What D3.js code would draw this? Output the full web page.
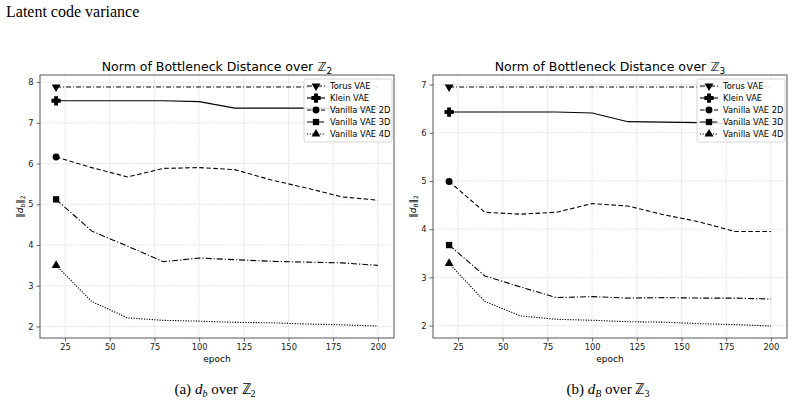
<!DOCTYPE html>
<html>
<head>
<meta charset="utf-8">
<script src="https://cdn.jsdelivr.net/npm/d3@7"></script>
<style>
  body { margin: 0; background: #fff; }
  svg { display: block; }
  .tick text { font-family: "DejaVu Sans", sans-serif; font-size: 8.3px; fill: #222; }
</style>
</head>
<body>
<div id="chart"></div>
<script>
// data
var epochs = [20, 40, 60, 80, 100, 120, 140, 160, 180, 200];
var xTicks = [25, 50, 75, 100, 125, 150, 175, 200];
var seriesNames = ["Torus VAE", "Klein VAE", "Vanilla VAE 2D", "Vanilla VAE 3D", "Vanilla VAE 4D"];

var torusZ2 = [7.88, 7.88, 7.88, 7.88, 7.88, 7.88, 7.88, 7.88, 7.88, 7.88];
var kleinZ2 = [7.54, 7.54, 7.54, 7.54, 7.52, 7.36, 7.36, 7.36, 7.36, 7.35];
var van2dZ2 = [6.16, 5.90, 5.67, 5.88, 5.90, 5.85, 5.60, 5.40, 5.18, 5.10];
var van3dZ2 = [5.12, 4.34, 3.97, 3.59, 3.68, 3.64, 3.60, 3.58, 3.56, 3.50];
var van4dZ2 = [3.50, 2.61, 2.21, 2.15, 2.13, 2.10, 2.09, 2.06, 2.04, 2.01];

var torusZ3 = [6.95, 6.95, 6.95, 6.95, 6.95, 6.95, 6.95, 6.95, 6.95, 6.95];
var kleinZ3 = [6.43, 6.43, 6.43, 6.43, 6.41, 6.23, 6.22, 6.21, 6.18, 6.15];
var van2dZ3 = [4.99, 4.35, 4.31, 4.35, 4.53, 4.48, 4.30, 4.15, 3.95, 3.95];
var van3dZ3 = [3.67, 3.03, 2.80, 2.58, 2.60, 2.57, 2.58, 2.57, 2.57, 2.55];
var van4dZ3 = [3.29, 2.50, 2.20, 2.13, 2.11, 2.08, 2.07, 2.04, 2.02, 1.99];

var svgWidth = 794, svgHeight = 405;
var svg = d3.select("#chart").append("svg")
  .attr("width", svgWidth)
  .attr("height", svgHeight);

svg.append("text")
  .attr("x", 6).attr("y", 17)
  .style("font-family", "Liberation Serif, serif")
  .style("font-size", "16px")
  .text("Latent code variance");

// line style + marker for each series
var styles = [
  { dash: "5,2,1,2", symbol: d3.symbolTriangle, rot: 180, size: 34, sw: 0 },
  { dash: null, symbol: d3.symbolCross, rot: 0, size: 36, sw: 1.2 },
  { dash: "4.5,2.5", symbol: d3.symbolCircle, rot: 0, size: 38, sw: 0 },
  { dash: "6,2,1.2,2", symbol: d3.symbolSquare, rot: 0, size: 40, sw: 0 },
  { dash: "1.2,1.4", symbol: d3.symbolTriangle, rot: 0, size: 34, sw: 0 }
];

function drawPanel(left, top, w, h, allSeries, sub, caption) {
  var g = svg.append("g").attr("transform", `translate(${left}, ${top})`);

  // matplotlib style 5% margins
  var xr = d3.extent(epochs);
  var xPad = (xr[1] - xr[0]) * 0.05;
  var all = [].concat.apply([], allSeries);
  var yr = d3.extent(all);
  var yPad = (yr[1] - yr[0]) * 0.05;

  var x = d3.scaleLinear().domain([xr[0] - xPad, xr[1] + xPad]).range([0, w]);
  var y = d3.scaleLinear().domain([yr[0] - yPad, yr[1] + yPad]).range([h, 0]);
  var yTicks = d3.range(Math.ceil(y.domain()[0]), Math.floor(y.domain()[1]) + 1);

  // grid
  g.append("g").selectAll("line").data(xTicks).enter().append("line")
    .attr("x1", d => x(d)).attr("x2", d => x(d)).attr("y1", 0).attr("y2", h)
    .attr("stroke", "#ccc").attr("stroke-width", 0.6).attr("stroke-dasharray", "1.5,1");
  g.append("g").selectAll("line").data(yTicks).enter().append("line")
    .attr("y1", d => y(d)).attr("y2", d => y(d)).attr("x1", 0).attr("x2", w)
    .attr("stroke", "#ccc").attr("stroke-width", 0.6).attr("stroke-dasharray", "1.5,1");

  // axes
  var bottomAxis = d3.axisBottom(x).tickValues(xTicks).tickSize(3.5).tickPadding(3);
  var leftAxis = d3.axisLeft(y).tickValues(yTicks).tickFormat(d3.format("d")).tickSize(3.5).tickPadding(3);
  var xa = g.append("g").attr("transform", `translate(0, ${h})`).call(bottomAxis);
  var ya = g.append("g").call(leftAxis);
  [xa, ya].forEach(function(a) {
    a.select(".domain").remove();
    a.selectAll(".tick line").attr("stroke", "#444").attr("stroke-width", 0.8);
  });

  // series
  var line = d3.line().x((d, i) => x(epochs[i])).y(d => y(d));
  allSeries.forEach(function(vals, k) {
    var st = styles[k];
    g.append("path")
      .datum(vals)
      .attr("d", line)
      .attr("fill", "none")
      .attr("stroke", "#000")
      .attr("stroke-width", 1.1)
      .attr("stroke-dasharray", st.dash);
    g.append("path")
      .attr("d", d3.symbol().type(st.symbol).size(st.size)())
      .attr("transform", `translate(${x(epochs[0])}, ${y(vals[0])}) rotate(${st.rot})`)
      .attr("fill", "#000")
      .attr("stroke", "#000").attr("stroke-width", st.sw);
  });

  // frame
  g.append("rect").attr("width", w).attr("height", h)
    .attr("fill", "none").attr("stroke", "#444").attr("stroke-width", 0.9);

  // title
  var t = g.append("text")
    .attr("x", w / 2).attr("y", -4)
    .attr("text-anchor", "middle")
    .style("font-family", "DejaVu Sans, sans-serif")
    .style("font-size", "12.5px");
  t.append("tspan").text("Norm of Bottleneck Distance over \u2124");
  t.append("tspan").attr("dy", 2.5).style("font-size", "9px").text(sub);

  // y label
  var yl = g.append("text")
    .attr("transform", `translate(-17, ${h / 2}) rotate(-90)`)
    .attr("text-anchor", "middle")
    .style("font-family", "DejaVu Sans, sans-serif")
    .style("font-size", "9px");
  yl.append("tspan").text("\u2016");
  yl.append("tspan").style("font-style", "italic").text("d");
  yl.append("tspan").attr("dy", 1.5).style("font-size", "6px").style("font-style", "italic").text(caption.sub);
  yl.append("tspan").attr("dy", -1.5).text("\u2016");
  yl.append("tspan").attr("dy", 1.5).style("font-size", "6px").text("2");

  // x label
  g.append("text")
    .attr("x", w / 2).attr("y", h + 24)
    .attr("text-anchor", "middle")
    .style("font-family", "DejaVu Sans, sans-serif")
    .style("font-size", "9px")
    .text("epoch");

  // legend
  var lg = g.append("g").attr("transform", `translate(${w - 90}, 4)`);
  lg.append("rect").attr("width", 88).attr("height", 63).attr("rx", 2)
    .attr("fill", "#fff").attr("fill-opacity", 0.85)
    .attr("stroke", "#ccc").attr("stroke-width", 0.8);
  seriesNames.forEach(function(name, k) {
    var st = styles[k];
    var ly = 7 + k * 12;
    lg.append("line").attr("x1", 3).attr("x2", 21).attr("y1", ly).attr("y2", ly)
      .attr("stroke", "#000").attr("stroke-width", 1.1).attr("stroke-dasharray", st.dash);
    lg.append("path")
      .attr("d", d3.symbol().type(st.symbol).size(st.size)())
      .attr("transform", `translate(12, ${ly}) rotate(${st.rot})`)
      .attr("fill", "#000")
      .attr("stroke", "#000").attr("stroke-width", st.sw);
    lg.append("text").attr("x", 26).attr("y", ly + 3)
      .style("font-family", "DejaVu Sans, sans-serif")
      .style("font-size", "8.3px")
      .text(name);
  });

  // caption under the panel
  var c = svg.append("text")
    .attr("x", left + w / 2 - 2).attr("y", 394)
    .attr("text-anchor", "middle")
    .style("font-family", "Liberation Serif, serif")
    .style("font-size", "15px");
  c.append("tspan").text(caption.tag + " ");
  c.append("tspan").style("font-style", "italic").text("d");
  c.append("tspan").attr("dy", 3).style("font-size", "10px").style("font-style", "italic").text(caption.sub);
  c.append("tspan").attr("dy", -3).text(" over \u2124");
  c.append("tspan").attr("dy", 3).style("font-size", "10px").text(sub);
}

drawPanel(40, 75, 354, 263, [torusZ2, kleinZ2, van2dZ2, van3dZ2, van4dZ2], "2", { tag: "(a)", sub: "b" });
drawPanel(433, 75, 354, 263, [torusZ3, kleinZ3, van2dZ3, van3dZ3, van4dZ3], "3", { tag: "(b)", sub: "B" });
</script>
</body>
</html>
